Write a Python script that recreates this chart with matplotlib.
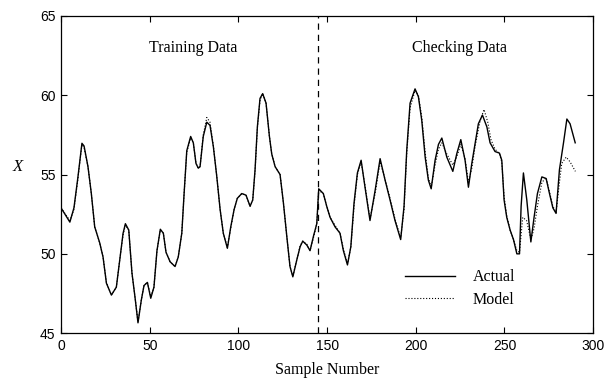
import numpy as np
import matplotlib.pyplot as plt

# actual series
actual_x = [0, 5, 7.3, 9.5, 11.8, 13, 15.2, 17.1, 19, 21.8, 23.7, 25.6, 28.4, 31.2, 33.1, 35, 36.3,
            38.2, 40, 41.9, 43.4, 45.3, 46.8, 48.7, 50.6, 52.4, 54.1, 56, 57.7, 59.2, 61.5, 64.3,
            66.1, 68.1, 69.4, 70.9, 73.1, 74.6, 76.1, 77.4, 78.4, 80.2, 82.2, 84, 85.9, 87.8,
            89.7, 91.5, 93.8, 95.7, 97.6, 99.4, 101.9, 104.3, 106.6, 108.1, 109.4, 110.7, 112.2,
            113.7, 115.6, 117.5, 118.8, 120.7, 123.5, 125.4, 127.3, 129.1, 130.7, 132.9, 134.8,
            136.3, 138.6, 140.4, 142.3, 144.2, 145.3, 147.9, 149.8, 151.7, 154.5, 157.3, 159.2,
            161.5, 163.4, 165.2, 167.1, 169.2, 171.4, 174.2, 177.1, 179.9, 182.7, 185.5, 188.3,
            191.5, 193.4, 194.9, 196.8, 199.6, 201.5, 203.4, 205.3, 207.1, 208.7, 210.9, 212.8,
            214.7, 217.5, 220.9, 223.1, 225.4, 227.8, 229.7, 231.6, 233.5, 235.3, 237.6, 240.1,
            241.9, 244.7, 247.2, 248.5, 249.8, 251.3, 253.2, 255.1, 257, 258.5, 259.4, 260.7,
            262.6, 264.9, 266.7, 268.6, 271.1, 273.5, 275.4, 277.3, 279.1, 281, 283.3, 285.2,
            287, 289.9]
actual_y = [52.9, 52.0, 52.9, 54.8, 56.97, 56.8, 55.5, 53.8, 51.7, 50.7, 49.8, 48.15, 47.4, 47.9,
            49.6, 51.3, 51.9, 51.5, 48.8, 47.1, 45.65, 47.1, 48.0, 48.2, 47.2, 47.9, 50.2, 51.55,
            51.3, 50.1, 49.5, 49.2, 49.8, 51.3, 53.8, 56.5, 57.4, 57.0, 55.7, 55.4, 55.5, 57.4,
            58.3, 58.1, 56.75, 54.9, 52.8, 51.3, 50.35, 51.7, 52.8, 53.5, 53.8, 53.7, 53.0, 53.4,
            55.3, 58.0, 59.8, 60.1, 59.5, 57.4, 56.3, 55.5, 55.0, 53.2, 51.1, 49.2, 48.55, 49.6,
            50.45, 50.8, 50.55, 50.2, 51.1, 51.9, 54.1, 53.8, 53.0, 52.3, 51.7, 51.3, 50.2, 49.3,
            50.45, 53.2, 55.1, 55.9, 54.2, 52.1, 54.0, 56.0, 54.65, 53.4, 52.1, 50.9, 53.0, 56.5,
            59.5, 60.4, 59.9, 58.4, 56.1, 54.65, 54.1, 55.9, 56.9, 57.3, 56.1, 55.2, 56.3, 57.2,
            55.9, 54.2, 55.7, 57.0, 58.2, 58.75, 58.0, 57.0, 56.45, 56.35, 55.9, 53.4, 52.3, 51.5,
            50.9, 50.0, 50.0, 53.0, 55.1, 53.4, 50.75, 52.3, 53.8, 54.85, 54.75, 53.8, 52.9, 52.55,
            55.3, 57.0, 58.5, 58.2, 57.0]

# model output (mostly under the actual line)
model_x = [0, 5, 7.3, 9.5, 11.8, 13, 15.2, 17.1, 19, 21.8, 23.7, 25.6, 28.4, 31.2, 33.1, 35, 36.3,
           38.2, 40, 41.9, 43.4, 45.3, 46.8, 48.7, 50.6, 52.4, 54.1, 56, 57.7, 59.2, 61.5, 64.3,
           66.1, 68.1, 69.4, 70.9, 73.1, 74.6, 76.1, 77.4, 78.4, 80.2, 82.2, 84, 85.9, 87.8,
           89.7, 91.5, 93.8, 95.7, 97.6, 99.4, 101.9, 104.3, 106.6, 108.1, 109.4, 110.7, 112.2,
           113.7, 115.6, 117.5, 118.8, 120.7, 123.5, 125.4, 127.3, 129.1, 130.7, 132.9, 134.8,
           136.3, 138.6, 140.4, 142.3, 144.2, 145.3, 147.9, 149.8, 151.7, 154.5, 157.3, 159.2,
           161.5, 163.4, 165.2, 167.1, 169.2, 171.4, 174.2, 177.1, 179.9, 182.7, 185.5, 188.3,
           191.5, 193.4, 194.9, 196.8, 199.6, 201.5, 203.4, 205.3, 207.1, 208.7, 210.9, 212.8,
           214.7, 217.5, 220.9, 223.1, 225.4, 227.8, 229.7, 231.6, 233.5, 236.3, 238.5, 240.6,
           242.4, 244.7, 247.2, 248.5, 249.8, 251.3, 253.2, 255.1, 257, 258.5, 260.3, 262.5,
           264.9, 266.7, 268.6, 271.1, 273.5, 275.4, 277.3, 279.1, 281, 282.3, 284.8, 287, 290]
model_y = [52.9, 52.1, 52.8, 54.7, 56.9, 56.7, 55.5, 53.8, 51.7, 50.7, 49.8, 48.2, 47.4, 47.9,
           49.6, 51.2, 51.8, 51.5, 48.8, 47.1, 45.7, 47.1, 48.0, 48.2, 47.3, 47.9, 50.2, 51.5,
           51.3, 50.1, 49.5, 49.2, 49.8, 51.3, 53.8, 56.4, 57.3, 57.0, 55.7, 55.4, 55.5, 57.5,
           58.6, 58.3, 56.8, 54.9, 52.8, 51.3, 50.4, 51.6, 52.8, 53.5, 53.8, 53.7, 53.0, 53.4,
           55.2, 57.9, 59.7, 60.1, 59.5, 57.4, 56.3, 55.5, 55.0, 53.2, 51.1, 49.2, 48.6, 49.6,
           50.5, 50.8, 50.6, 50.2, 51.0, 51.9, 54.0, 53.8, 53.0, 52.3, 51.8, 51.3, 50.3, 49.4,
           50.4, 53.0, 55.0, 55.8, 54.3, 52.2, 53.8, 55.8, 54.7, 53.5, 52.2, 51.0, 52.8, 56.3,
           59.2, 60.3, 60.0, 58.6, 56.4, 54.8, 54.2, 55.6, 56.6, 57.0, 56.3, 55.6, 56.1, 56.9,
           56.0, 54.5, 55.4, 56.8, 58.4, 59.1, 58.3, 57.2, 56.6, 56.3, 55.8, 53.6, 52.4, 51.5,
           50.9, 50.2, 50.1, 52.3, 52.1, 50.9, 51.6, 53.0, 54.5, 54.8, 53.9, 53.0, 52.6,
           54.5, 55.7, 56.1, 55.8, 55.2]

split_x = 145
y_ticks = [45, 50, 55, 60, 65]
x_ticks = [0, 50, 100, 150, 200, 250, 300]

plt.rcParams['font.family'] = 'Liberation Serif'

fig = plt.figure(figsize=(6.04, 3.79), dpi=100)
ax = fig.add_axes([0.101, 0.121, 0.881, 0.837])

ax.plot(actual_x, actual_y, '-', color='black', lw=1.0, label='Actual')
ax.plot(model_x, model_y, ':', color='black', lw=0.8, label='Model')
ax.axvline(split_x, color='black', ls=(0, (5, 4)), lw=0.9)

ax.set_xlim(0, 300)
ax.set_ylim(45, 65)
ax.set_xticks(x_ticks)
ax.set_yticks(y_ticks)
for lab in ax.get_xticklabels() + ax.get_yticklabels():
    lab.set_family('Liberation Sans')
    lab.set_fontsize(10)
ax.tick_params(direction='in', length=4, width=0.8, top=True, right=True, pad=4)
for s in ax.spines.values():
    s.set_linewidth(0.9)

ax.text(74.5, 63.0, 'Training Data', ha='center', va='center', fontsize=11.5)
ax.text(224.5, 63.0, 'Checking Data', ha='center', va='center', fontsize=11.5)
ax.set_xlabel('Sample Number', fontsize=11.5, labelpad=7)
ax.set_ylabel('X', fontsize=12, style='italic', rotation=0, labelpad=16)

ax.legend(loc='lower left', bbox_to_anchor=(0.62, 0.035), frameon=False, fontsize=11.5,
          handlelength=3.1, handletextpad=1.1, labelspacing=0.4)

fig.savefig('out.png', dpi=100)
